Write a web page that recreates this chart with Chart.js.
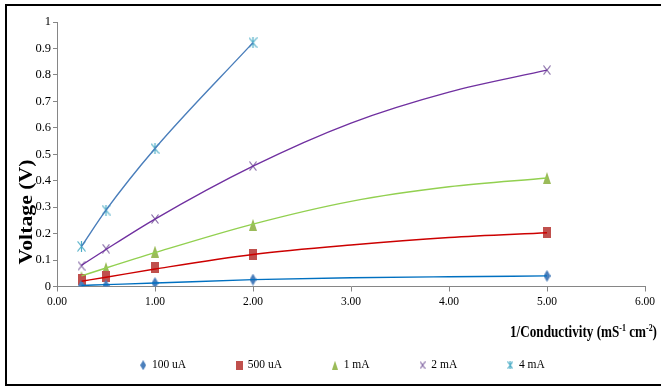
<!DOCTYPE html>
<html><head><meta charset="utf-8">
<script src="https://cdn.jsdelivr.net/npm/chart.js@4/dist/chart.umd.min.js"></script>
<style>html,body{margin:0;padding:0;background:#fff;}</style>
</head><body>
<canvas id="c" width="661" height="388"></canvas>
<script>
// ---- data ----
const seriesNames = ['100 uA', '500 uA', '1 mA', '2 mA', '4 mA'];
const xValues = [0.25, 0.5, 1, 2, 5];
const x4mA = [0.25, 0.5, 1, 2];
const v100uA = [0.003, 0.004, 0.013, 0.026, 0.04];
const v500uA = [0.025, 0.036, 0.072, 0.12, 0.205];
const v1mA = [0.036, 0.07, 0.132, 0.233, 0.41];
const v2mA = [0.078, 0.143, 0.255, 0.455, 0.818];
const v4mA = [0.152, 0.289, 0.522, 0.922];
// trendline values
const trendX = [0.25, 0.5, 1, 2, 3, 4, 5];
const trend100uA = [0.004, 0.007, 0.013, 0.026, 0.033, 0.037, 0.04];
const trend500uA = [0.02, 0.035, 0.066, 0.121, 0.157, 0.185, 0.203];
const trend1mA = [0.04, 0.07, 0.128, 0.236, 0.322, 0.377, 0.41];
const trend2mA = [0.08, 0.14, 0.255, 0.455, 0.618, 0.735, 0.818];
const trend4mA = [0.152, 0.289, 0.522, 0.922];
const xTicks = [0, 1, 2, 3, 4, 5, 6];
const yTicks = [0, 0.1, 0.2, 0.3, 0.4, 0.5, 0.6, 0.7, 0.8, 0.9, 1];
const xTitle = ['1/Conductivity (mS', '-1', ' cm', '-2', ')'];
const yTitle = 'Voltage (V)';

// ---- styles ----
const markerColors = ['#4A7EBB', '#C0504D', '#9BBB59', '#8064A2', '#4BACC6'];
const trendColors = ['#0070C0', '#CC0000', '#92D050', '#7030A0', '#4A7EBB'];

function mk(w, h, fn) {
  const c = document.createElement('canvas');
  c.width = w; c.height = h;
  const g = c.getContext('2d');
  fn(g, w, h);
  return c;
}
function diamond(col, w, h) { return mk(w, h, (g) => { g.fillStyle = col; g.beginPath(); g.moveTo(w/2, 0); g.lineTo(w, h/2); g.lineTo(w/2, h); g.lineTo(0, h/2); g.closePath(); g.fill(); }); }
function square(col, w, h) { return mk(w, h, (g) => { g.fillStyle = col; g.fillRect(0, 0, w, h); }); }
function triangle(col, w, h) { return mk(w, h, (g) => { g.fillStyle = col; g.beginPath(); g.moveTo(w/2, 0); g.lineTo(w, h); g.lineTo(0, h); g.closePath(); g.fill(); }); }
function cross(col, w, h) { return mk(w, h, (g) => { g.strokeStyle = col; g.lineWidth = 1.2; g.beginPath(); g.moveTo(0.5, 0.5); g.lineTo(w-0.5, h-0.5); g.moveTo(w-0.5, 0.5); g.lineTo(0.5, h-0.5); g.stroke(); }); }
function star(col, w, h) { return mk(w, h, (g) => { g.strokeStyle = col; g.lineWidth = 1.2; g.beginPath(); g.moveTo(0.5, 0.5); g.lineTo(w-0.5, h-0.5); g.moveTo(w-0.5, 0.5); g.lineTo(0.5, h-0.5); g.moveTo(w/2, 0); g.lineTo(w/2, h); g.stroke(); }); }

const plotMarkers = [
  diamond(markerColors[0], 7, 12), square(markerColors[1], 8, 11), triangle(markerColors[2], 8, 12),
  cross(markerColors[3], 8, 10), star(markerColors[4], 9, 11)
];
const legendMarkers = [
  diamond(markerColors[0], 6, 10), square(markerColors[1], 7, 9), triangle(markerColors[2], 6, 9),
  cross(markerColors[3], 6, 8), star(markerColors[4], 6, 8)
];

const pts = (xs, ys) => ys.map((y, i) => ({x: xs[i], y}));
const markerData = [pts(xValues, v100uA), pts(xValues, v500uA), pts(xValues, v1mA), pts(xValues, v2mA), pts(x4mA, v4mA)];
const trendData = [pts(trendX, trend100uA), pts(trendX, trend500uA), pts(trendX, trend1mA), pts(trendX, trend2mA), pts(x4mA, trend4mA)];

const datasets = [];
trendData.forEach((d, i) => datasets.push({
  label: 'trend ' + seriesNames[i], data: d, isTrend: true,
  borderColor: trendColors[i], borderWidth: 1.4, pointRadius: 0, pointHoverRadius: 0,
  fill: false, cubicInterpolationMode: 'monotone', showLine: true
}));
markerData.forEach((d, i) => datasets.push({
  label: seriesNames[i], data: d, isTrend: false, seriesIndex: i,
  showLine: false, pointStyle: plotMarkers[i], pointRadius: 5,
  backgroundColor: markerColors[i], borderColor: markerColors[i]
}));

const frame = {
  id: 'frame',
  afterLayout(chart) {
    // nudge the legend row to sit where the reference has it
    if (chart.legend) { chart.legend.left += 10; chart.legend.right += 10; }
  },
  beforeDraw(chart) {
    const ctx = chart.ctx;
    ctx.save(); ctx.fillStyle = '#fff'; ctx.fillRect(0, 0, chart.width, chart.height); ctx.restore();
  },
  afterDraw(chart) {
    const ctx = chart.ctx;
    ctx.save();
    ctx.strokeStyle = '#000'; ctx.lineWidth = 2;
    ctx.strokeRect(6, 5, 720, 380);
    ctx.fillStyle = '#000';
    const big = 'bold 15px "Liberation Serif"', small = 'bold 9px "Liberation Serif"';
    let total = 0;
    const widths = xTitle.map((t, i) => { ctx.font = (i % 2 === 1) ? small : big; const w = ctx.measureText(t).width; total += w; return w; });
    const targetW = 147, right = 657, base = 337;
    const sx = targetW / total;
    ctx.translate(right - targetW, base);
    ctx.scale(sx, 1.15);
    ctx.textBaseline = 'alphabetic'; ctx.textAlign = 'left';
    let cx = 0;
    xTitle.forEach((t, i) => {
      const sup = (i % 2 === 1);
      ctx.font = sup ? small : big;
      ctx.fillText(t, cx, sup ? -5.5 : 0);
      cx += widths[i];
    });
    ctx.restore();
    ctx.save();
    ctx.fillStyle = '#000';
    ctx.font = 'bold 17px "Liberation Serif"';
    const yw = ctx.measureText(yTitle).width;
    ctx.translate(32, 212);
    ctx.rotate(-Math.PI / 2);
    ctx.scale(105 / yw, 1.05);
    ctx.textAlign = 'center'; ctx.textBaseline = 'alphabetic';
    ctx.fillText(yTitle, 0, 0);
    ctx.restore();
  }
};

const axisGray = '#868686';
new Chart(document.getElementById('c'), {
  type: 'line',
  data: { datasets },
  options: {
    responsive: false, animation: false, devicePixelRatio: 1,
    layout: { padding: { left: 20, right: 16, top: 22, bottom: 7 } },
    plugins: {
      tooltip: { enabled: false },
      legend: {
        position: 'bottom',
        labels: {
          usePointStyle: true, pointStyleWidth: 6, boxHeight: 10,
          padding: 50, color: '#000',
          font: { family: '"Liberation Serif"', size: 11.5 },
          filter: (item, data) => !data.datasets[item.datasetIndex].isTrend,
          generateLabels(chart) {
            const items = Chart.defaults.plugins.legend.labels.generateLabels(chart);
            return items.map(it => {
              const ds = chart.data.datasets[it.datasetIndex];
              if (!ds.isTrend) it.pointStyle = legendMarkers[ds.seriesIndex];
              it.fontColor = '#000';
              return it;
            });
          }
        }
      }
    },
    scales: {
      x: {
        type: 'linear', min: 0, max: 6,
        afterBuildTicks: (s) => { s.ticks = xTicks.map(v => ({value: v})); },
        afterFit: (s) => { s.height = 23; },
        ticks: { callback: (v) => Number(v).toFixed(2), color: '#000', padding: 4, maxRotation: 0,
                 font: { family: '"Liberation Serif"', size: 11.5 } },
        grid: { drawOnChartArea: false, drawTicks: true, tickLength: 5, color: axisGray, tickColor: axisGray },
        border: { display: true, color: axisGray, width: 1 }
      },
      y: {
        type: 'linear', min: 0, max: 1,
        afterBuildTicks: (s) => { s.ticks = yTicks.map(v => ({value: v})); },
        afterFit: (s) => { s.width = 37; },
        ticks: { callback: (v) => String(Number(Number(v).toFixed(1))), color: '#000', padding: 2,
                 font: { family: '"Liberation Serif"', size: 12.5 } },
        grid: { drawOnChartArea: false, drawTicks: true, tickLength: 4, color: axisGray, tickColor: axisGray },
        border: { display: true, color: axisGray, width: 1 }
      }
    }
  },
  plugins: [frame]
});
</script>
</body></html>
